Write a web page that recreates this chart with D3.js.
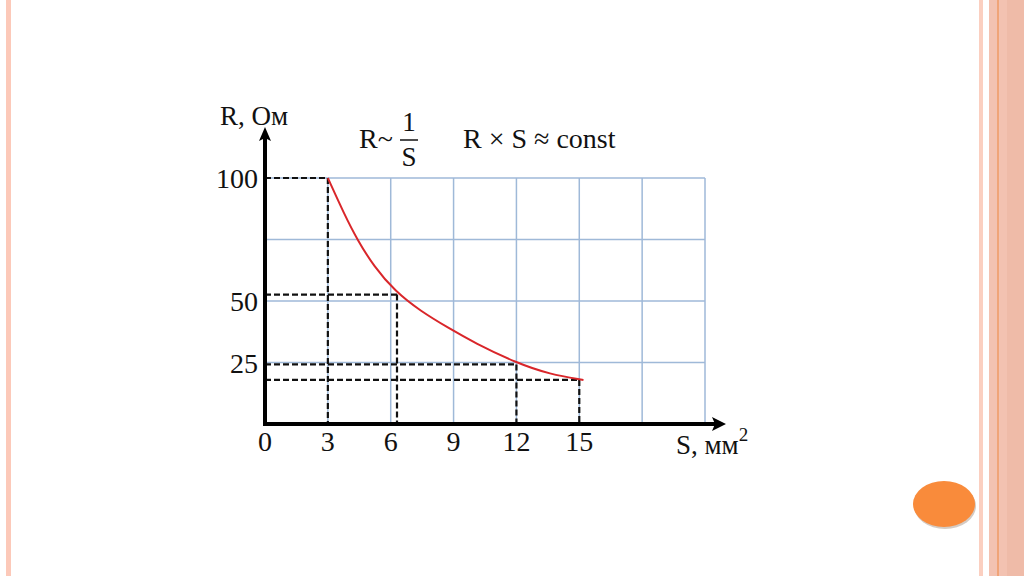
<!DOCTYPE html>
<html><head><meta charset="utf-8">
<script src="https://cdn.jsdelivr.net/npm/d3@7"></script>
<style>html,body{margin:0;padding:0;background:#fff;}svg{display:block;}</style>
</head><body>
<svg id="c" width="1024" height="576"></svg>
<script>
// Curve R(S)
const curveS = [3, 3.8, 4.4, 5.2, 6.2, 7.4, 8.8, 10, 12, 13.6, 15.2];
const curveR = [100, 85, 75, 64, 54, 46, 38.8, 33, 24.8, 20.2, 17.9];
// Points projected with dashed lines onto the axes
const markS = [3, 6.3, 12, 15];
const markR = [100, 52.6, 24.2, 17.9];
const xTicks = [0, 3, 6, 9, 12, 15];
const yTicks = [25, 50, 100];
const gridX = [0, 3, 6, 9, 12, 15, 18, 21];
const gridY = [0, 25, 50, 75, 100];

const svg = d3.select("#c");
const serif = "'Liberation Serif','DejaVu Serif',serif";

// slide decoration
svg.append("rect").attr("x", 6).attr("y", 0).attr("width", 5).attr("height", 576).attr("fill", "#fcc9b9");
svg.append("rect").attr("x", 979).attr("y", 0).attr("width", 4).attr("height", 576).attr("fill", "#fbcfc0");
svg.append("rect").attr("x", 989).attr("y", 0).attr("width", 35).attr("height", 576).attr("fill", "#f3c2b1");
svg.append("rect").attr("x", 1007).attr("y", 0).attr("width", 17).attr("height", 576).attr("fill", "#efbba8");
svg.append("rect").attr("x", 997).attr("y", 0).attr("width", 2).attr("height", 576).attr("fill", "#f0a478");
svg.append("ellipse").attr("cx", 945).attr("cy", 506).attr("rx", 31).attr("ry", 23).attr("fill", "#b8a89c").attr("opacity", 0.6);
svg.append("ellipse").attr("cx", 944).attr("cy", 504).attr("rx", 31).attr("ry", 23).attr("fill", "#f98b3b");

const x = d3.scaleLinear().domain([0, 21]).range([265, 705]);
const y = d3.scaleLinear().domain([0, 100]).range([424, 178]);

// grid
const g = svg.append("g");
g.selectAll("line.gx").data(gridX.slice(1)).join("line")
  .attr("x1", d => x(d)).attr("x2", d => x(d)).attr("y1", y(0)).attr("y2", y(100))
  .attr("stroke", "#9fb9d8").attr("stroke-width", 1.5);
g.selectAll("line.gy").data(gridY.slice(1)).join("line")
  .attr("x1", x(0)).attr("x2", x(21)).attr("y1", d => y(d)).attr("y2", d => y(d))
  .attr("stroke", "#9fb9d8").attr("stroke-width", 1.5);

// dashed projections
const pts = markS.map((s, i) => [s, markR[i]]);
g.selectAll("line.dh").data(pts).join("line")
  .attr("x1", x(0)).attr("x2", d => x(d[0])).attr("y1", d => y(d[1])).attr("y2", d => y(d[1]))
  .attr("stroke", "#111").attr("stroke-width", 2.2).attr("stroke-dasharray", "6,3");
g.selectAll("line.dv").data(pts).join("line")
  .attr("x1", d => x(d[0])).attr("x2", d => x(d[0])).attr("y1", d => y(d[1])).attr("y2", y(0))
  .attr("stroke", "#111").attr("stroke-width", 2.2).attr("stroke-dasharray", "6,3");

// curve
const cdata = curveS.map((s, i) => [s, curveR[i]]);
g.append("path").datum(cdata)
  .attr("d", d3.line().x(d => x(d[0])).y(d => y(d[1])).curve(d3.curveBasis))
  .attr("fill", "none").attr("stroke", "#d9262a").attr("stroke-width", 2);

// axes
svg.append("line").attr("x1", x(0)).attr("x2", 716).attr("y1", y(0)).attr("y2", y(0))
  .attr("stroke", "#000").attr("stroke-width", 4);
svg.append("path").attr("d", `M726,${y(0)} L712,${y(0)-7} L715,${y(0)} L712,${y(0)+7} Z`).attr("fill", "#000");
svg.append("line").attr("x1", x(0)).attr("x2", x(0)).attr("y1", y(0) + 2).attr("y2", 138)
  .attr("stroke", "#000").attr("stroke-width", 4);
svg.append("path").attr("d", `M${x(0)},127 L${x(0)-6},141 L${x(0)},138 L${x(0)+6},141 Z`).attr("fill", "#000");

// tick labels
svg.selectAll("text.xt").data(xTicks).join("text")
  .attr("x", d => x(d)).attr("y", 451).attr("text-anchor", "middle")
  .attr("font-family", serif).attr("font-size", 28).attr("fill", "#111").text(d => d);
svg.selectAll("text.yt").data(yTicks).join("text")
  .attr("x", 258).attr("y", d => y(d) + 10).attr("text-anchor", "end")
  .attr("font-family", serif).attr("font-size", 28).attr("fill", "#111").text(d => d);

// axis titles
svg.append("text").attr("x", 220).attr("y", 125).attr("font-family", serif).attr("font-size", 27).attr("fill", "#111").text("R, Ом");
const st = svg.append("text").attr("x", 676).attr("y", 454).attr("font-family", serif).attr("font-size", 27).attr("fill", "#111");
st.append("tspan").text("S, мм");
st.append("tspan").attr("dy", -13).attr("font-size", 19).text("2");

// formulas
svg.append("text").attr("x", 359).attr("y", 148).attr("font-family", serif).attr("font-size", 28).attr("fill", "#111").text("R~");
svg.append("text").attr("x", 409).attr("y", 131).attr("text-anchor", "middle").attr("font-family", serif).attr("font-size", 27).attr("fill", "#111").text("1");
svg.append("line").attr("x1", 400).attr("x2", 418).attr("y1", 140).attr("y2", 140).attr("stroke", "#111").attr("stroke-width", 1.5);
svg.append("text").attr("x", 409).attr("y", 166).attr("text-anchor", "middle").attr("font-family", serif).attr("font-size", 27).attr("fill", "#111").text("S");
svg.append("text").attr("x", 463).attr("y", 148).attr("font-family", serif).attr("font-size", 28).attr("fill", "#111").text("R × S ≈ const");
</script>
</body></html>
